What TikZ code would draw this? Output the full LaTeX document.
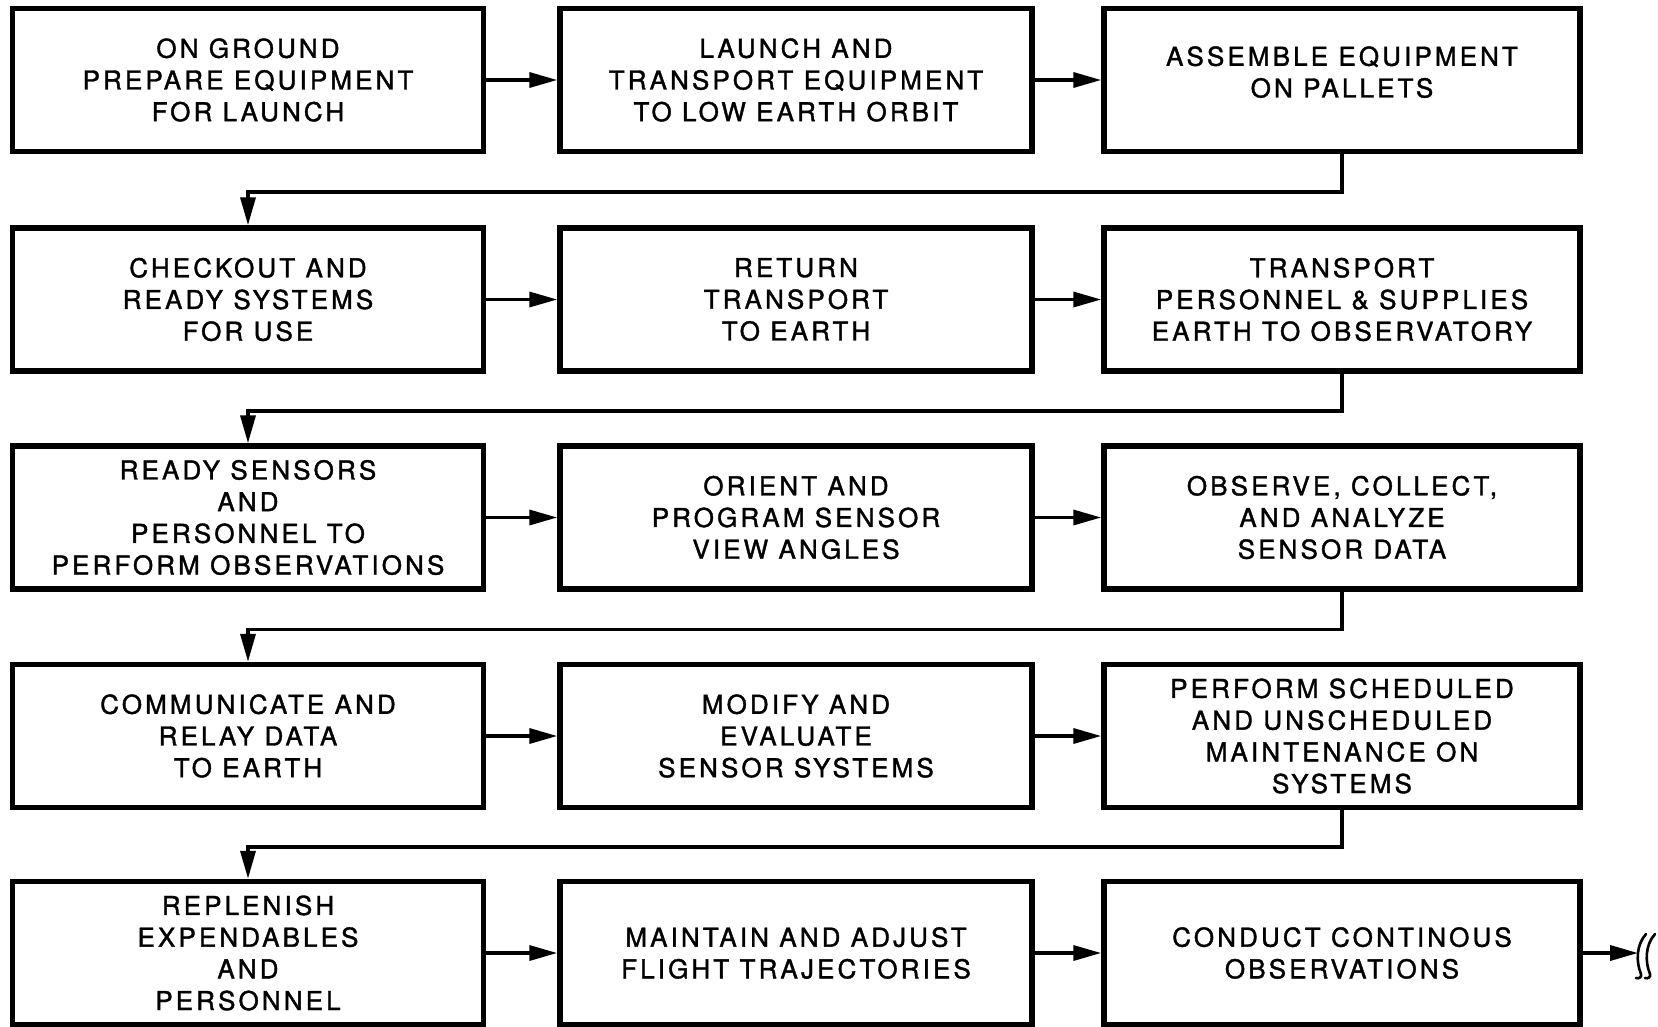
\documentclass[tikz,border=0pt]{standalone}
\usepackage{fontspec}
\setmainfont{TeX Gyre Heros}[LetterSpace=12,FakeBold=1.4]
\usetikzlibrary{arrows.meta}

\begin{document}
\begin{tikzpicture}[x=1pt,y=-1pt,
  stepbox/.style={draw, line width=5.5pt, minimum height=143pt, align=center,
    inner sep=0pt, font=\fontsize{26}{31.7}\selectfont},
  colA/.style={stepbox, minimum width=471pt},
  colB/.style={stepbox, minimum width=472pt},
  colC/.style={stepbox, minimum width=476pt},
  flow/.style={line width=3.5pt, -{Triangle[length=28pt,width=15pt]}},
  brk/.style={line width=2.6pt, line cap=round}]
\useasboundingbox (0,0) rectangle (1658,1026);

% row 1
\node[colA] (a1) at (248,80) {ON GROUND\\PREPARE EQUIPMENT\\FOR LAUNCH};
\node[colB] (a2) at (796,80) {LAUNCH AND\\TRANSPORT EQUIPMENT\\TO LOW EARTH ORBIT};
\node[colC] (a3) at (1342,80) {ASSEMBLE EQUIPMENT\\ON PALLETS\\[-25pt]\strut};
% row 2
\node[colA] (b1) at (248,299.5) {CHECKOUT AND\\READY SYSTEMS\\FOR USE};
\node[colB] (b2) at (796,299.5) {RETURN\\TRANSPORT\\TO EARTH};
\node[colC] (b3) at (1342,299.5) {TRANSPORT\\PERSONNEL \& SUPPLIES\\EARTH TO OBSERVATORY};
% row 3
\node[colA] (c1) at (248,517.5) {READY SENSORS\\AND\\PERSONNEL TO\\PERFORM OBSERVATIONS};
\node[colB] (c2) at (796,517.5) {ORIENT AND\\PROGRAM SENSOR\\VIEW ANGLES};
\node[colC] (c3) at (1342,517.5) {OBSERVE, COLLECT,\\AND ANALYZE\\SENSOR DATA};
% row 4
\node[colA] (d1) at (248,736) {COMMUNICATE AND\\RELAY DATA\\TO EARTH};
\node[colB] (d2) at (796,736) {MODIFY AND\\EVALUATE\\SENSOR SYSTEMS};
\node[colC] (d3) at (1342,736) {PERFORM SCHEDULED\\AND UNSCHEDULED\\MAINTENANCE ON\\SYSTEMS};
% row 5
\node[colA] (e1) at (248,953) {REPLENISH\\EXPENDABLES\\AND\\PERSONNEL};
\node[colB] (e2) at (796,953) {MAINTAIN AND ADJUST\\FLIGHT TRAJECTORIES};
\node[colC] (e3) at (1342,953) {CONDUCT CONTINOUS\\OBSERVATIONS};

% arrows along each row
\foreach \r in {a,b,c,d,e}{
  \draw[flow] (\r1.east) -- (\r2.west);
  \draw[flow] (\r2.east) -- (\r3.west);
}

% returns from the end of one row to the start of the next
\draw[flow] (a3.south) -- ++(0,37.5) -| (b1.north);
\draw[flow] (b3.south) -- ++(0,37) -| (c1.north);
\draw[flow] (c3.south) -- ++(0,37.5) -| (d1.north);
\draw[flow] (d3.south) -- ++(0,36.5) -| (e1.north);

% open-ended exit
\coordinate (out) at (1638,953);
\draw[flow] (e3.east) -- (out);
\draw[brk] (1646,934) .. controls (1636,945) and (1636,962) .. (1641,974)
           .. controls (1642,977) and (1639,979) .. (1636,978);
\draw[brk] (1655,934) .. controls (1645,945) and (1645,962) .. (1650,974)
           .. controls (1651,977) and (1648,979) .. (1645,978);
\end{tikzpicture}
\end{document}
